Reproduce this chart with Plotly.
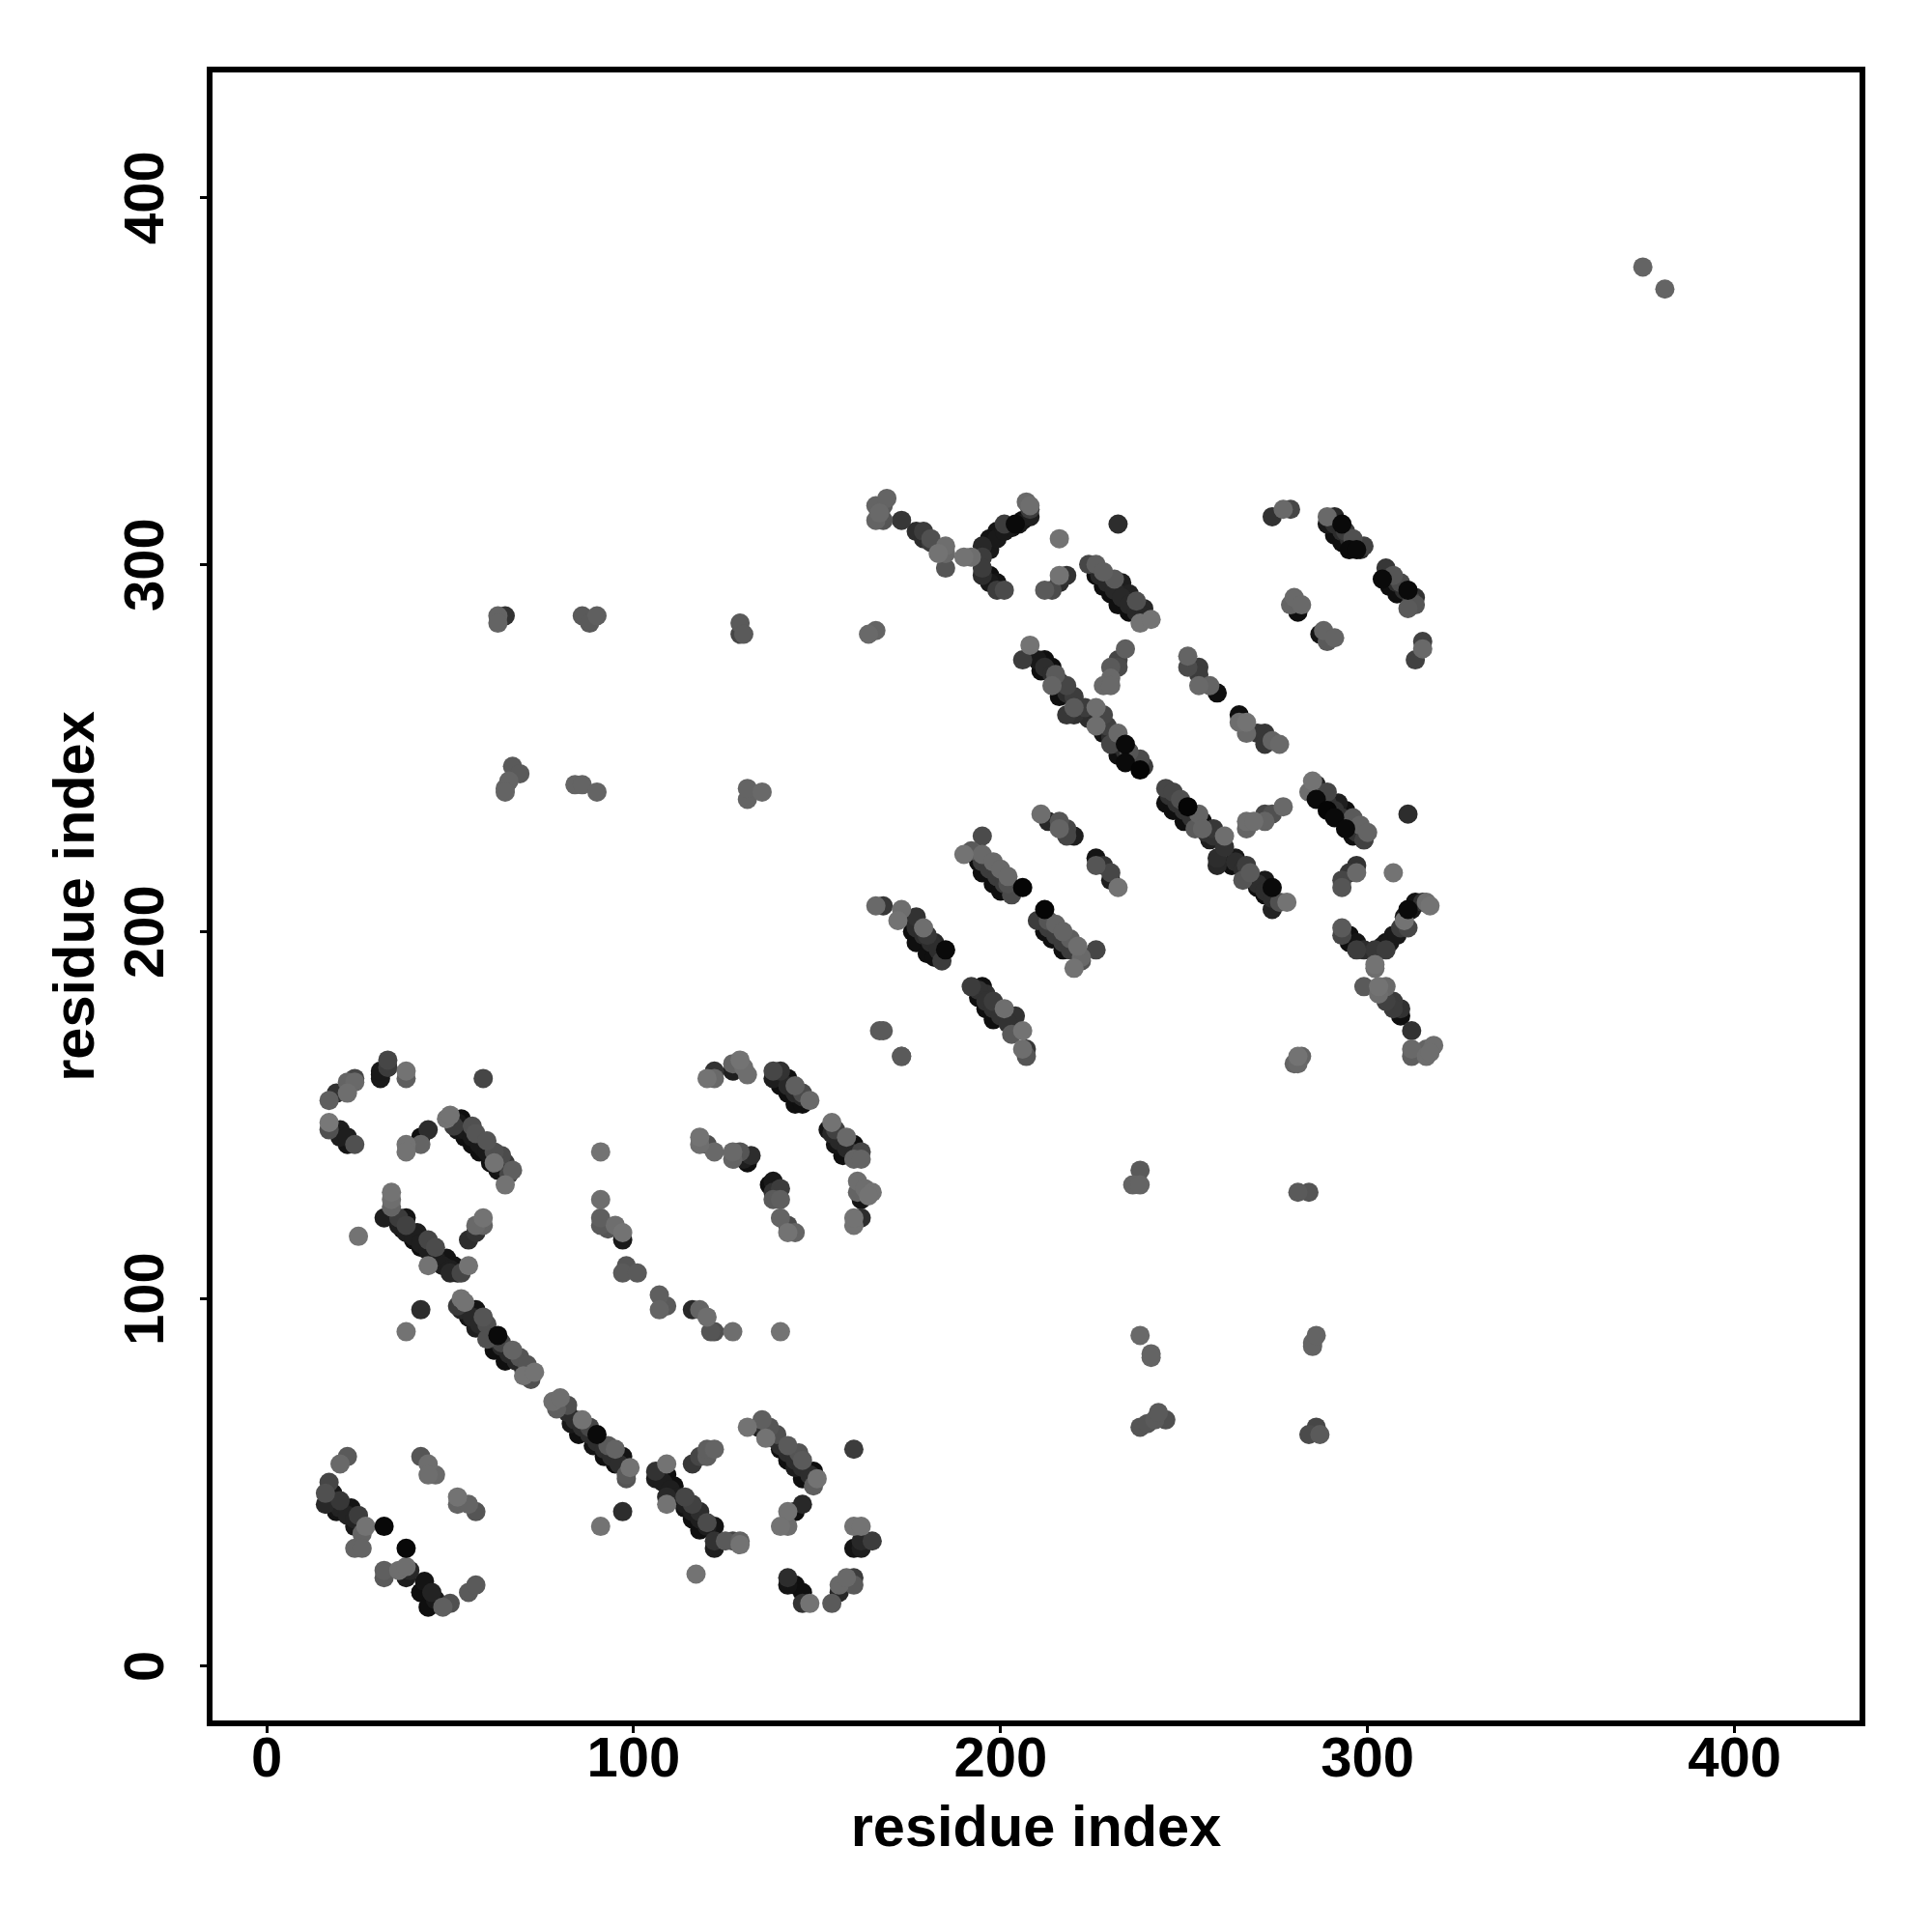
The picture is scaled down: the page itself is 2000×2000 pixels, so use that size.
import plotly.graph_objects as go

tick_values = [0, 100, 200, 300, 400]
axis_title = "residue index"

contact_x = [
 17,19,22,22,24,24, 31,31,31,33,33,33,38,38, 59,
 17,17,20,20,22,22,24, 38,38,42,42,44,
 49,50,51,52,54,56,58,59,61,63,62,53,56,57,60,62,64,65,65,66,67,
 25,34,34,34,32,36,38,38,37,41,40,44,46,42,44,46,47,49,51,50,53,55, 55,57,57,59,59,
 52,53,54,53,57,55,59,60,57,60,63,62,64,67,65,69,71,70,73,72, 42,38,
 78,80,79,82,83,86,88,85,90,89,93,95,92,97,95,98,99,98, 97,91,
 17,16,18,16,20,19,23,25,24,27,26, 20,22, 24,26, 32,38, 32,32,36,38,38,39,43,42,45,42,46,44,48,50, 55,57,
 42,44,44,46, 52,52,55,57,
 106,106,109,109,111,109,109,114,116,114,118,116,120,122,118,122,122,125,127,129,129, 117, 116,118,120,120,122,
 131,135,134,137,139,136,142,140,142,145,146,144,146,149,150,149, 146,144,142,140,142, 160,160,162,160,162,162,165,
 142,142,144,146,146,148,154,156,156,158,160,160,
 120,122,122, 127,127,129,130,131, 138,138,140,142,140,144,142,146,144,148,146,
 118,118,120,122, 127,127,129,130,132,131, 138,137,140,138,138,140, 140,142,142,144,
 154,153,155,158,155,160,157,162,160,162, 161,161,162,163,165,164, 160,160,162, 167,168,173,173,
 166,168,173,172,174,177,179,176,180,177,182,180,185,184,182,
 195,190,192,194,195,198,200,195,202,198,202,200,203,206,
 192,195,196,194,198,196,201,198,204,206,203,207,206,207,
 212,210,213,212,215,217,214,219,221,217,222,222,220,226,
 211,213,216,216,218,218,220, 226,226,228,230,230,232,
 166,168,166,168,169,167, 173,177,179,179,181,181,183,185,185,185, 190,192,
 195,195,195,195,197,197,199,201,199, 197,199,201,204,206,208,208,207,208,
 216,212,214,216,216,218, 232,
 224,226,226,228,228,231,230,233,235,232,237,235,239,238,241,
 208,206,210,212,214,211,215,214,218,216,220,218,220,220,223,225,226,228,226,228,229,232,230,234,232,235,234,238,238,239,
 234,232,230,232,230,228,230,
 251,251,254,254,254,257,259, 265,265,267,267,270,272,272,274,276,
 274,277,279, 280,279,281,282, 287,288,291,289,
 289,291,289,293,291,294,293,296,295,299,297,
 305,304,307,306,309,308,311,312,311,313,313, 315,315,313,
 245,247,245,249,247,251,254,250,253,255,255,258,261,257,261,
 259,259,264,263,267,268,266,272,270,274,272,274,276,278,
 267,267,269,272,274,272,277,
 285,284,286,286,289,289,292,294,291,296,294,298,296,299,300,
 311,307, 297,297,295,293,293,
 293,293,295,295,297,297,299,302,302,302,
 305,305,307,309,311,310,311,313,315,316,317,
 299,303,305,303,305,307,307,309,309,312,
 312,312,316,316,318,317, 281,280,282,281,
 375,381,
 63,63,65, 86,90,88, 129,129,130, 164,166,
 65,66,67,69,65, 84,86,90, 131,131,135,
 238,241,241, 238,240,242,243,245, 284,286,287, 285,285,286,
 281,284, 236,238,238,
 91,91,91,91,95,97,97,93,98,97,101,107,107,109,116,118,120,121,122,127,140,
]

contact_y = [
 154,156,156,159,159,160, 160,161,162,163,165,163,160,162, 160,
 148,146,146,144,144,142,142, 142,140,142,144,146,
 149,150,147,146,144,142,140,141,137,135,137,149,147,145,143,140,139,137,131,134,135,
 117,129,127,125,122,122,122,120,119,118,116,116,114,114,109,110,111,111,109,107,107,109, 116,118,120,120,122,
 98,100,99,97,97,95,95,93,92,89,90,86,88,86,83,84,82,79,80,78, 97,91,
 72,73,70,71,66,67,65,63,63,60,60,59,57,57,55,52,54,51, 42,38,
 50,47,47,44,45,42,43,41,38,38,36, 55,57, 32,32, 38,32, 26,24,26,27,24,26,23,20,20,20,18,16,16,17, 20,22,
 57,55,52,52, 46,44,44,42,
 53,51,55,52,49,46,44,46,44,43,42,40,39,38,37,34,32,34,34,34,33, 25, 55,57,57,59,59,
 65,67,65,65,63,62,60,59,56,58,56,54,51,53,51,49, 44,42,42,38,38, 59,38,38,32,32,34,34,
 24,22,22,20,17,17,17,20,22,24,22,24,
 160,160,162, 164,162,165,163,161, 162,160,162,160,158,158,156,156,153,154,153,
 144,142,142,140, 140,138,140,138,139,137, 132,131,130,127,129,127, 122,120,118,118,
 148,146,146,144,142,142,139,140,138,138, 132,129,127,130,129,128, 120,122,122, 173,173,166,166,
 207,207,206,203,204,204,201,200,199,197,197,194,195,192,193,
 226,221,222,219,221,219,217,216,215,213,213,211,210,212,
 185,185,183,182,181,179,179,176,177,173,172,168,168,166,
 206,203,203,200,202,200,198,198,196,195,193,192,190,195,
 232,230,230,228,228,226,226, 220,218,218,216,214,212,
 312,312,316,316,318,314, 312,309,309,307,307,306,303,305,303,299, 302,302,
 305,302,299,297,297,295,295,293,293, 307,309,311,311,312,313,315,317,316,
 307,293,293,295,297,297, 311,
 300,300,297,298,294,296,292,295,292,289,290,287,288,284,285,
 278,274,274,274,272,271,270,267,267,264,264,259,259,261,261,259,261,259,256,254,256,254,251,251,248,249,246,247,244,245,
 277,274,272,272,269,267,267,
 275,272,272,270,267,267,265, 259,257,257,254,254,254,251,252,251,
 313,315,315, 291,289,287,289, 281,282,280,279,
 313,313,311,311,308,309,306,307,304,305,304,
 299,296,297,294,295,292,293,290,288,291,289, 279,277,274,
 239,238,235,236,233,234,232,230,228,230,228,228,226,225,223,
 220,218,220,218,218,216,214,214,212,212,210,206,208,208,
 230,228,230,232,232,230,234,
 241,238,240,236,238,233,235,233,231,231,228,229,226,225,227,
 232,216, 218,216,216,214,212,
 201,199,199,197,197,195,195,195,191,190,
 197,195,199,201,201,203,206,208,208,208,207,
 185,185,185,183,181,181,179,179,177,173,
 168,166,166,168,169,167, 166,164,166,164,
 381,375,
 286,284,286, 286,286,284, 284,281,281, 281,282,
 239,241,245,243,238, 240,240,238, 236,239,238,
 90,85,84, 65,66,67,69,67, 63,65,63, 88,87,90,
 129,129, 131,131,135,
 140,127,122,120,120,118,116,119,109,107,107,101,97,98,97,97,95,91,91,91,91,
]

contact_gray = [
 95,50,110,100,105,70, 25,20,25,30,70,60,95,115, 70,
 120,80,30,30,30,20,80, 115,115,100,15,45,
 115,115,60,20,15,15,15,25,15,20,115,15,80,85,85,80,75,60,115,70,95,
 115,115,110,100,30,60,20,65,15,30,15,70,75,15,115,15,20,20,20,40,70,115, 45,50,105,100,115,
 60,115,115,40,20,20,85,80,30,80,10,15,70,100,15,85,85,115,115,80, 45,115,
 110,110,95,80,25,115,70,15,10,20,90,100,15,20,15,90,115,85, 45,115,
 70,80,25,40,55,20,20,60,25,115,100, 105,90, 100,100, 8,8, 95,90,110,110,30,40,20,15,35,15,25,15,95,80, 90,90,
 85,110,110,105, 115,100,100,85,
 50,30,115,15,15,40,115,70,65,20,45,15,75,20,15,50,30,90,70,100,115, 115, 55,70,95,95,100,
 115,95,30,85,80,115,90,15,15,85,90,30,15,15,115,95, 40,15,115,115,110, 60,115,115,20,30,40,60,
 45,20,15,15,50,115,90,40,105,105,90,60,
 115,105,50, 100,30,115,110,110, 70,30,50,15,15,95,15,75,15,105,15,
 115,110,80,105, 105,100,85,30,45,15, 25,15,60,90,50,95, 100,75,115,100,
 115,20,65,105,20,15,15,70,100,100, 110,100,20,110,115,115, 115,115,45, 90,90,90,90,
 105,55,110,115,40,50,110,15,55,15,40,15,10,60,15,
 75,115,90,15,105,105,105,15,105,15,80,15,75,5,
 60,15,50,15,60,15,110,15,50,115,90,55,110,85,
 5,60,85,15,100,100,15,95,110,15,105,85,115,70,
 110,40,85,100,70,70,30, 20,85,50,70,30,115,
 100,85,100,90,100,105, 55,45,60,45,80,60,115,110,105,85, 115,110,
 40,60,60,45,15,25,20,75,60, 20,20,60,10,15,30,60,105,110,
 115,90,75,45,115,50, 45,
 70,95,15,95,15,90,15,30,35,15,80,15,40,115,115,
 115,60,25,15,15,15,90,100,70,15,60,55,50,90,60,25,110,70,110,20,65,105,70,10,15,85,10,75,5,60,
 95,70,90,75,105,105,105,
 100,75,60,60,105,100,15, 15,110,115,105,55,55,55,100,105,
 50,105,70, 105,100,15,105, 20,100,100,90,
 105,40,25,10,15,60,15,80,10,65,10,
 55,10,85,15,75,15,10,70,90,50,85, 65,105,65,
 70,70,15,80,15,5,100,15,90,15,100,55,110,30,50,
 45,40,25,15,60,90,85,25,15,10,15,35,80,115,
 110,100,110,70,80,100,105,
 115,110,35,10,70,5,30,15,10,90,10,100,15,65,100,
 45,115, 50,105,55,70,85,
 90,70,15,15,20,60,45,55,115,110,
 20,60,25,60,70,115,10,20,50,110,115,
 90,115,105,110,65,60,60,50,15,50,
 105,95,110,100,110,110, 115,100,100,105,
 100,100,
 100,100,50, 90,95,90, 90,70,90, 105,100,
 100,100,90,90,100, 100,100,100, 100,100,105,
 105,100,100, 85,85,90,90,80, 75,70,90, 100,100,100,
 90,85, 100,100,90,
 115,110,95,90,110,115,25,85,85,90,90,95,100,90,40,100,110,85,80,110,115,
]

# Residue pairs read from the middle of the dense strands.
strand_x = [
 52,54,56,58,60,62,64,66,
 36,38,40,42,44,46,48,50,52,
 54,56,58,60,62,64,66,68,70,
 80,82,84,86,88,90,92,94,96,
 18,20,22,24,
 108,110,112,114,116,118,120,
 136,138,140,142,144,146,148,
 142,144,146,
 154,156,158,160,
 177,179,181,183,
 194,196,198,200,202,
 195,197,199,201,
 213,215,217,219,
 227,229,231,233,235,237,239,
 212,214,216,218,220,222,224,226,228,230,232,234,236,238,
 246,248,250,252,254,256,258,
 264,266,268,270,272,274,
 287,289,291,293,295,297,299,
 291,293,295,297,298,
 306,308,310,312,
 197,199,201,203,205,
 304,306,308,310,312,
]
strand_y = [
 148,146,144,142,140,138,136,134,
 120,118,117,115,113,111,109,108,107,
 97,95,93,91,89,87,85,83,81,
 71,69,67,65,63,61,59,57,55,
 45,43,41,40,
 50,48,46,44,42,40,38,
 64,62,60,58,56,54,52,
 158,156,155,
 145,143,141,139,
 201,199,197,195,
 184,181,179,177,175,
 219,217,215,213,
 201,199,197,195,
 297,295,293,291,289,287,286,
 272,270,268,265,263,260,258,257,256,253,251,249,247,245,
 237,235,233,231,229,227,226,
 219,217,215,213,211,209,
 238,235,233,231,229,227,225,
 311,309,307,305,304,
 297,295,293,291,
 304,307,309,310,311,
 196,197,199,204,206,
]
strand_gray = [
 25,25,25,25,25,25,25,25,
 30,30,30,30,30,30,30,30,30,
 40,40,40,40,40,40,40,40,40,
 45,45,45,45,45,45,45,45,45,
 35,35,35,35,
 30,30,30,30,30,30,30,
 45,45,45,45,45,45,45,
 40,40,40,
 40,40,40,40,
 45,45,45,45,
 50,50,50,50,50,
 60,60,60,60,
 60,60,60,60,
 40,40,40,40,40,40,40,
 45,45,45,45,45,45,45,45,45,45,45,45,45,45,
 50,50,50,50,50,50,50,
 45,45,45,45,45,45,
 50,50,50,50,50,50,50,
 45,45,45,45,45,
 45,45,45,45,
 25,25,25,25,25,
 25,25,25,25,25,
]

assert len(contact_x) == len(contact_y) == len(contact_gray), (len(contact_x), len(contact_y), len(contact_gray))
assert len(strand_x) == len(strand_y) == len(strand_gray), (len(strand_x), len(strand_y), len(strand_gray))

all_x = contact_x + strand_x
all_y = contact_y + strand_y
all_gray = contact_gray + strand_gray

# Paint order: dark under light, with the near-black dots left on top.
order = sorted(range(len(all_x)), key=lambda i: (all_gray[i] <= 10, 0 if all_gray[i] <= 10 else all_gray[i]))

fig = go.Figure(go.Scatter(
    x=[all_x[i] for i in order], y=[all_y[i] for i in order], mode="markers",
    marker=dict(size=20, color=[f"rgb({all_gray[i]},{all_gray[i]},{all_gray[i]})" for i in order],
                opacity=1, line=dict(width=0)),
    hoverinfo="skip",
))

font_face = "Liberation Sans"
axis_style = dict(
    tickmode="array", tickvals=tick_values,
    ticktext=[str(v) for v in tick_values],
    showgrid=False, zeroline=False, showline=True, mirror=True,
    linecolor="black", linewidth=6, ticks="outside", ticklen=7, tickwidth=3,
    tickcolor="black", automargin=False,
    tickfont=dict(family=font_face, size=58, color="black", weight="bold"),
)
title_font = dict(family=font_face, size=59.5, color="black", weight="bold")
fig.update_xaxes(**axis_style, range=[-14.76, 434.05], ticklabelstandoff=-25,
    title=dict(text=axis_title, standoff=21.5, font=title_font))
fig.update_yaxes(**axis_style, range=[-14.87, 434.0], tickangle=-90, ticklabelstandoff=15,
    ticklabelshift=9,
    title=dict(text=axis_title, standoff=1, font=title_font))
fig.update_layout(
    width=2000, height=2000, autosize=False, showlegend=False,
    paper_bgcolor="white", plot_bgcolor="white",
    margin=dict(l=219.5, r=75, t=75, b=219.3, pad=0),
)
fig.write_html("out.html", config=dict(displayModeBar=False),
               post_script="document.body.style.margin='0';document.body.style.overflow='hidden';")
